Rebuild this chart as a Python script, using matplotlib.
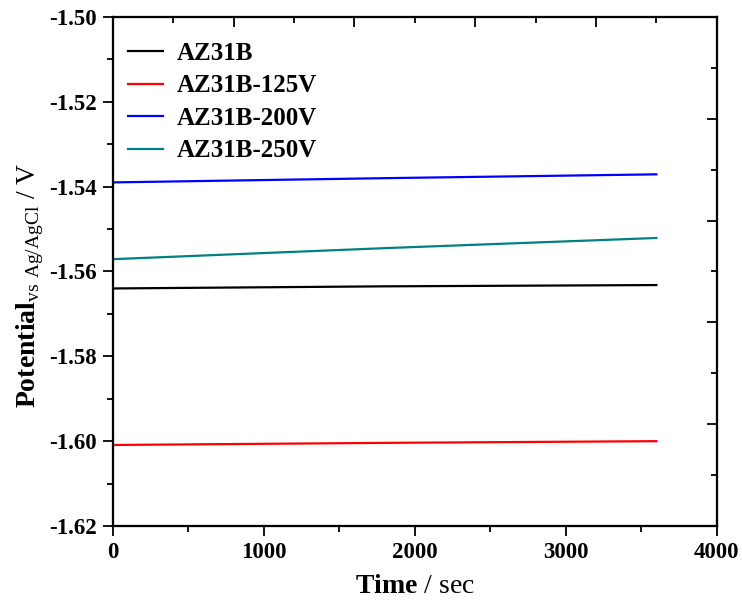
import matplotlib
matplotlib.use("Agg")
import matplotlib.pyplot as plt
from matplotlib.ticker import MultipleLocator

plt.rcParams['font.family'] = ['Liberation Serif', 'DejaVu Serif']
plt.rcParams['mathtext.fontset'] = 'custom'
plt.rcParams['mathtext.rm'] = 'Liberation Serif'
plt.rcParams['mathtext.bf'] = 'Liberation Serif:bold'

# time (s) and open circuit potential (V vs Ag/AgCl)
time = [0, 1800, 3600]
az31b = [-1.5640, -1.5635, -1.5632]
az31b_125 = [-1.6009, -1.6004, -1.6000]
az31b_200 = [-1.5390, -1.5380, -1.5371]
az31b_250 = [-1.5571, -1.5545, -1.5521]

labels = ["AZ31B", "AZ31B-125V", "AZ31B-200V", "AZ31B-250V"]
colors = ["black", "#ff0000", "#0000ff", "#008080"]

fig = plt.figure(figsize=(7.42, 6.06), dpi=100)
ax = fig.add_axes([0.152, 0.132, 0.814, 0.840])

for y, lab, c in zip([az31b, az31b_125, az31b_200, az31b_250], labels, colors):
    ax.plot(time, y, color=c, lw=1.6, label=lab)

ax.set_xlim(0, 4000)
ax.set_ylim(-1.62, -1.50)
ax.xaxis.set_major_locator(MultipleLocator(1000))
ax.xaxis.set_minor_locator(MultipleLocator(500))
ax.yaxis.set_major_locator(MultipleLocator(0.02))
ax.yaxis.set_minor_locator(MultipleLocator(0.01))
ax.yaxis.set_major_formatter(plt.FormatStrFormatter('%.2f'))
ax.tick_params(which='major', direction='out', length=7.5, width=1.3,
               labelsize=16.5, pad=4)
ax.tick_params(which='minor', direction='out', length=4, width=1.3)
for t in ax.get_xticklabels() + ax.get_yticklabels():
    t.set_fontweight('bold')

for s in ax.spines.values():
    s.set_linewidth(1.5)

# top and right axes carry their own 10-division ticks, pointing inward
ax_top = ax.twiny()
ax_top.set_xlim(0, 1)
ax_top.set_xticks([0.2, 0.4, 0.6, 0.8])
ax_top.set_xticks([0.1, 0.3, 0.5, 0.7, 0.9], minor=True)
ax_top.tick_params(which='both', direction='in', labeltop=False, width=1.3)
ax_top.tick_params(which='major', length=7)
ax_top.tick_params(which='minor', length=4)

ax_right = ax.twinx()
ax_right.set_ylim(0, 1)
ax_right.set_yticks([0.2, 0.4, 0.6, 0.8])
ax_right.set_yticks([0.1, 0.3, 0.5, 0.7, 0.9], minor=True)
ax_right.tick_params(which='both', direction='in', labelright=False, width=1.3)
ax_right.tick_params(which='major', length=7)
ax_right.tick_params(which='minor', length=4)
for a in (ax_top, ax_right):
    for s in a.spines.values():
        s.set_linewidth(1.5)

ax.set_xlabel(r'$\mathbf{Time}$ / sec', fontsize=20, labelpad=8)
ax.set_ylabel(r'$\mathbf{Potential}_{\mathrm{vs\ Ag/AgCl}}$ / V', fontsize=20)
ax.yaxis.set_label_coords(-0.111, 0.4735)

leg = ax.legend(loc='upper left', bbox_to_anchor=(0.008, 0.9705), frameon=False,
                handlelength=1.4, handletextpad=0.55, labelspacing=0.38,
                borderaxespad=0, prop={'weight': 'bold', 'size': 18})

fig.savefig("out.png", dpi=100)
